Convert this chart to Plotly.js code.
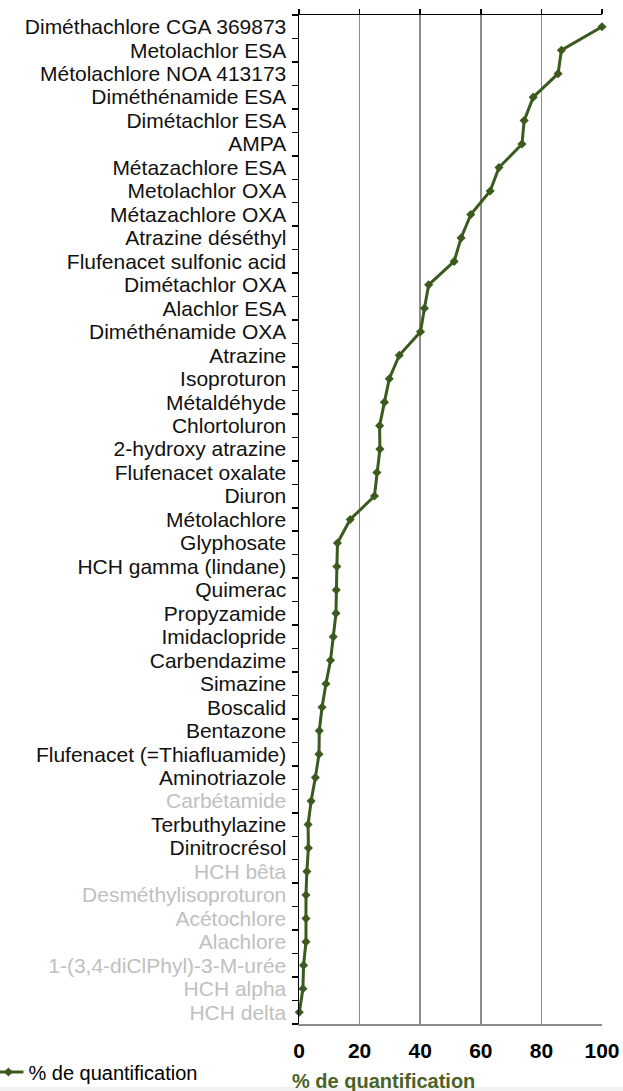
<!DOCTYPE html>
<html>
<head>
<meta charset="utf-8">
<script src="https://cdn.plot.ly/plotly-3.0.1.min.js"></script>
<style>
  html, body { margin: 0; padding: 0; background: #ffffff; }
  #chart { width: 623px; height: 1091px; }
</style>
</head>
<body>
<div id="chart"></div>
<script>
var categories = [
  "Diméthachlore CGA 369873", "Metolachlor ESA", "Métolachlore NOA 413173",
  "Diméthénamide ESA", "Dimétachlor ESA", "AMPA", "Métazachlore ESA",
  "Metolachlor OXA", "Métazachlore OXA", "Atrazine déséthyl",
  "Flufenacet sulfonic acid", "Dimétachlor OXA", "Alachlor ESA",
  "Diméthénamide OXA", "Atrazine", "Isoproturon", "Métaldéhyde",
  "Chlortoluron", "2-hydroxy atrazine", "Flufenacet oxalate", "Diuron",
  "Métolachlore", "Glyphosate", "HCH gamma (lindane)", "Quimerac",
  "Propyzamide", "Imidaclopride", "Carbendazime", "Simazine", "Boscalid",
  "Bentazone", "Flufenacet (=Thiafluamide)", "Aminotriazole", "Carbétamide",
  "Terbuthylazine", "Dinitrocrésol", "HCH bêta", "Desméthylisoproturon",
  "Acétochlore", "Alachlore", "1-(3,4-diClPhyl)-3-M-urée", "HCH alpha",
  "HCH delta"
];

var quantification = [
  100, 86.6, 85.5, 77.3, 74.3, 73.6, 66.0, 63.1, 56.7, 53.5,
  51.2, 42.8, 41.4, 40.1, 33.1, 29.8, 28.2, 26.6, 26.7, 25.7,
  24.9, 16.9, 12.7, 12.5, 12.3, 12.2, 11.3, 10.4, 8.9, 7.6,
  6.7, 6.6, 5.4, 4.0, 3.0, 3.1, 2.6, 2.3, 2.3, 2.3,
  1.5, 1.3, 0.1
];

var greyedCategories = [
  "Carbétamide", "HCH bêta", "Desméthylisoproturon", "Acétochlore",
  "Alachlore", "1-(3,4-diClPhyl)-3-M-urée", "HCH alpha", "HCH delta"
];

var xTickValues = [0, 20, 40, 60, 80, 100];
var seriesName = "% de quantification";
var xAxisTitle = "% de quantification";

var GREEN = "#3b5a1d";
var FONT = "Liberation Sans, Arial, sans-serif";

var tickText = categories.map(function (c) {
  if (greyedCategories.indexOf(c) >= 0) {
    return '<span style="color:#c0c0c0">' + c + '</span>';
  }
  return c;
});

var trace = {
  type: "scatter",
  mode: "lines+markers",
  name: seriesName,
  x: quantification,
  y: categories,
  line: { color: GREEN, width: 3 },
  marker: { color: GREEN, symbol: "diamond", size: 7 },
  cliponaxis: false
};

var helper = {
  type: "scatter",
  mode: "none",
  x: quantification,
  y: categories,
  xaxis: "x2",
  yaxis: "y",
  showlegend: false,
  hoverinfo: "skip"
};

var nCat = categories.length;

var layout = {
  width: 623,
  height: 1091,
  margin: { l: 299, r: 21, t: 15, b: 67, pad: 0, autoexpand: false },
  paper_bgcolor: "#ffffff",
  plot_bgcolor: "#ffffff",
  font: { family: FONT, color: "#000000" },
  showlegend: true,
  legend: {
    orientation: "h",
    x: -1.025, xanchor: "left",
    y: -0.0475, yanchor: "middle",
    font: { family: FONT, size: 20, color: "#000000" },
    bgcolor: "rgba(0,0,0,0)",
    borderwidth: 0
  },
  xaxis: {
    range: [0, 100],
    autorange: false,
    automargin: false,
    tickmode: "array",
    tickvals: xTickValues,
    ticktext: xTickValues.map(String),
    ticks: "",
    showgrid: true,
    gridcolor: "#8c8c8c",
    gridwidth: 1.5,
    zeroline: false,
    showline: true,
    linecolor: "#8c8c8c",
    linewidth: 1.5,
    tickfont: { family: FONT, size: 21, color: "#000000", weight: "bold" },
    ticklabelstandoff: 7,
    fixedrange: true
  },
  xaxis2: {
    overlaying: "x",
    side: "top",
    anchor: "y",
    range: [0, 100],
    autorange: false,
    automargin: false,
    tickmode: "array",
    tickvals: xTickValues,
    showticklabels: false,
    ticks: "outside",
    ticklen: 5,
    tickwidth: 1.5,
    tickcolor: "#000000",
    showgrid: false,
    zeroline: false,
    showline: true,
    linecolor: "#000000",
    linewidth: 1.5
  },
  yaxis: {
    type: "category",
    categoryorder: "array",
    categoryarray: categories,
    range: [nCat - 0.5, -0.5],
    autorange: false,
    automargin: false,
    tickmode: "array",
    tickvals: categories,
    ticktext: tickText,
    tickson: "boundaries",
    ticks: "outside",
    ticklen: 6,
    tickwidth: 1.5,
    tickcolor: "#000000",
    showline: true,
    linecolor: "#000000",
    linewidth: 1.5,
    showgrid: false,
    zeroline: false,
    tickfont: { family: FONT, size: 21, color: "#111111" },
    ticklabelstandoff: 7,
    fixedrange: true
  },
  annotations: [{
    text: "<b>" + xAxisTitle + "</b>",
    xref: "paper", yref: "paper",
    x: 0.278, y: -0.056,
    xanchor: "center", yanchor: "middle",
    showarrow: false,
    font: { family: FONT, size: 20, color: "#4a6228" }
  }],
  shapes: [{
    type: "rect", xref: "paper", yref: "paper",
    x0: -1.1, x1: 1.1,
    y0: -0.0624, y1: -0.075,
    fillcolor: "#f2f2f2", line: { width: 0 }, layer: "above"
  }]
};

Plotly.newPlot("chart", [trace, helper], layout, { displayModeBar: false, staticPlot: true });
</script>
</body>
</html>
